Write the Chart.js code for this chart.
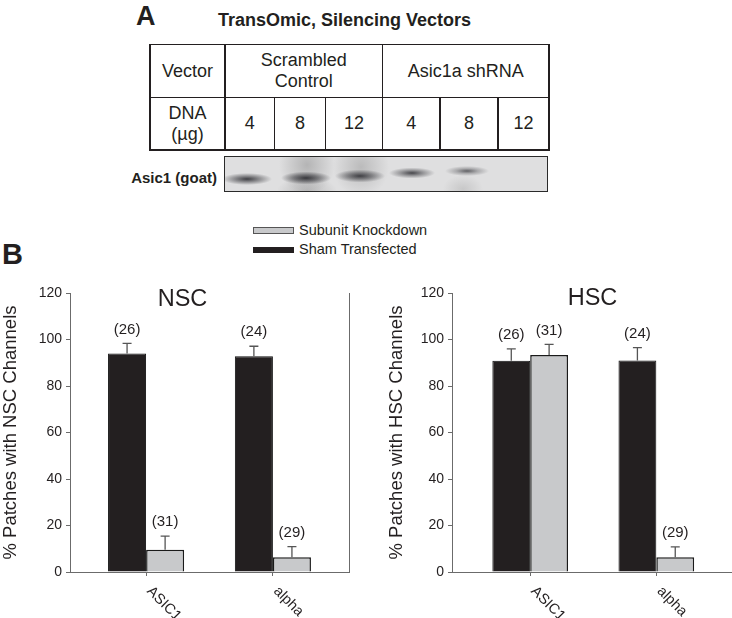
<!DOCTYPE html>
<html><head><meta charset="utf-8">
<script src="https://cdn.jsdelivr.net/npm/chart.js@4.4.1/dist/chart.umd.min.js"></script>
<style>
html,body{margin:0;padding:0;background:#fff}
body{width:732px;height:618px;position:relative;overflow:hidden;font-family:"Liberation Sans",Arial,sans-serif;color:#231f20}
.a{position:absolute;white-space:nowrap}
.cell{position:absolute;display:flex;align-items:center;justify-content:center;text-align:center;font-size:18px;line-height:21px}
.ln{position:absolute;background:#231f20}
canvas{position:absolute}
#blot{position:absolute;left:224px;top:155.5px;width:322px;height:34px;border:1.7px solid #2a2a2a;
background:
 radial-gradient(ellipse 25px 6px at 22px 22px, rgba(45,45,50,.9), rgba(45,45,50,.45) 50%, rgba(45,45,50,0)),
 radial-gradient(ellipse 25px 6.5px at 81px 21px, rgba(40,40,45,.9), rgba(40,40,45,.5) 50%, rgba(40,40,45,0)),
 radial-gradient(ellipse 25px 6.5px at 135px 19px, rgba(40,40,45,.85), rgba(40,40,45,.45) 50%, rgba(40,40,45,0)),
 radial-gradient(ellipse 23px 5.5px at 187px 16px, rgba(45,45,50,.85), rgba(45,45,50,.4) 50%, rgba(45,45,50,0)),
 radial-gradient(ellipse 22px 5px at 242px 14px, rgba(55,55,60,.75), rgba(55,55,60,.3) 50%, rgba(55,55,60,0)),
 radial-gradient(ellipse 28px 30px at 82px 8px, rgba(110,110,110,.38), rgba(110,110,110,0)),
 radial-gradient(ellipse 28px 30px at 136px 10px, rgba(110,110,110,.32), rgba(110,110,110,0)),
 radial-gradient(ellipse 30px 14px at 82px 34px, rgba(110,110,110,.32), rgba(110,110,110,0)),
 radial-gradient(ellipse 20px 14px at 238px 32px, rgba(130,130,130,.25), rgba(130,130,130,0)),
 #dfdfe0;}
</style></head>
<body>
<div class="a" style="left:136px;top:3px;font-size:27px;line-height:27px;font-weight:bold">A</div>
<div class="a" style="left:218px;top:10.8px;font-size:18px;line-height:18px;font-weight:bold">TransOmic, Silencing Vectors</div>

<div id="table"></div>
<div class="a" style="left:100px;width:117px;text-align:right;top:169px;font-size:15px;line-height:18px;font-weight:bold">Asic1 (goat)</div>
<div id="blot"></div>

<div class="a" style="left:2px;top:240px;font-size:29px;line-height:29px;font-weight:bold">B</div>

<div class="a" style="left:252.5px;top:227px;width:39px;height:5px;background:#c8c9cb;border:1px solid #555"></div>
<div class="a" style="left:252.5px;top:246.5px;width:41px;height:6.5px;background:#231f20"></div>
<div class="a" id="lg1" style="left:299px;top:222.7px;font-size:14.5px;line-height:14.5px"></div>
<div class="a" id="lg2" style="left:299px;top:242px;font-size:14.5px;line-height:14.5px"></div>

<canvas id="nsc" width="365" height="338" style="left:0;top:280px;width:365px;height:338px"></canvas>
<canvas id="hsc" width="346" height="338" style="left:386px;top:280px;width:346px;height:338px"></canvas>

<div class="a" id="t1" style="left:132.5px;width:100px;text-align:center;top:286.8px;font-size:23.5px;line-height:23.5px"></div>
<div class="a" id="t2" style="left:542.5px;width:100px;text-align:center;top:285.8px;font-size:23.5px;line-height:23.5px"></div>

<script>
// ---- data ----
const categories = ['ASIC1', 'alpha'];
const yTicks = [0, 20, 40, 60, 80, 100, 120];
const seriesNames = ['Subunit Knockdown', 'Sham Transfected'];
const panelTitles = ['NSC', 'HSC'];
const yTitles = ['% Patches with NSC Channels', '% Patches with HSC Channels'];

const nscSham = [94.0, 92.8];
const nscShamErr = [4.3, 4.3];
const nscShamN = ['(26)', '(24)'];
const nscKnock = [9.6, 6.3];
const nscKnockErr = [5.8, 4.6];
const nscKnockN = ['(31)', '(29)'];

const hscSham = [90.9, 91.0];
const hscShamErr = [5.1, 5.5];
const hscShamN = ['(26)', '(24)'];
const hscKnock = [93.3, 6.3];
const hscKnockErr = [4.6, 4.5];
const hscKnockN = ['(31)', '(29)'];

// table of panel A
const vectorHeader = ['Vector', 'Scrambled<br>Control', 'Asic1a shRNA'];
const dnaHeader = 'DNA<br>(µg)';
const dnaAmounts = ['4', '8', '12', '4', '8', '12'];

// ---- panel A table ----
(function(){
  const t = document.getElementById('table');
  const xs = [150, 225, 274.5, 325.5, 382.5, 440, 498, 549];
  const y0 = 44.5, y1 = 97.5, y2 = 150;
  let h = '';
  const cell = (l, r, tp, b, txt) => `<div class="cell" style="left:${l}px;width:${r-l}px;top:${tp}px;height:${b-tp}px">${txt}</div>`;
  h += cell(xs[0], xs[1], y0, y1, vectorHeader[0]);
  h += cell(xs[1], xs[4], y0, y1, vectorHeader[1]);
  h += cell(xs[4], xs[7], y0, y1, vectorHeader[2]);
  h += cell(xs[0], xs[1], y1, y2, dnaHeader);
  dnaAmounts.forEach((d, i) => { h += cell(xs[i+1], xs[i+2], y1, y2, d); });
  const lw = 1.5;
  const hl = (x1, x2, y) => `<div class="ln" style="left:${x1-lw/2}px;width:${x2-x1+lw}px;top:${y-lw/2}px;height:${lw}px"></div>`;
  const vl = (x, ya, yb) => `<div class="ln" style="left:${x-lw/2}px;width:${lw}px;top:${ya-lw/2}px;height:${yb-ya+lw}px"></div>`;
  h += hl(xs[0], xs[7], y0) + hl(xs[0], xs[7], y1) + hl(xs[0], xs[7], y2);
  h += vl(xs[0], y0, y2) + vl(xs[1], y0, y2) + vl(xs[4], y0, y2) + vl(xs[7], y0, y2);
  [2, 3, 5, 6].forEach(i => { h += vl(xs[i], y1, y2); });
  t.innerHTML = h;
})();

document.getElementById('lg1').textContent = seriesNames[0];
document.getElementById('lg2').textContent = seriesNames[1];
document.getElementById('t1').textContent = panelTitles[0];
document.getElementById('t2').textContent = panelTitles[1];

const FONT = '"Liberation Sans", Arial, sans-serif';
const INK = '#231f20';
const AXIS = '#6b6b6b';

const errPlugin = {
  id: 'errbars',
  afterDatasetsDraw(chart) {
    const ctx = chart.ctx, ys = chart.scales.y, xs = chart.scales.x;
    ctx.save();
    chart.data.datasets.forEach((ds, di) => {
      const meta = chart.getDatasetMeta(di);
      meta.data.forEach((bar, i) => {
        const top = ys.getPixelForValue(ds.data[i].y + ds.errors[i]);
        ctx.strokeStyle = '#555';
        ctx.lineWidth = 1.3;
        ctx.beginPath();
        ctx.moveTo(bar.x, bar.y);
        ctx.lineTo(bar.x, top);
        ctx.moveTo(bar.x - 4.5, top);
        ctx.lineTo(bar.x + 4.5, top);
        ctx.stroke();
        ctx.fillStyle = INK;
        ctx.font = '15px ' + FONT;
        ctx.textAlign = 'center';
        ctx.textBaseline = 'middle';
        ctx.fillText(ds.counts[i], bar.x, top - 14);
      });
    });
    // rotated category labels
    ctx.fillStyle = INK;
    ctx.font = '14.5px ' + FONT;
    categories.forEach((c, i) => {
      const px = xs.getPixelForValue(i);
      ctx.save();
      ctx.translate(px + 3, xs.top + 17);
      ctx.rotate(Math.PI / 4);
      ctx.textAlign = 'left';
      ctx.textBaseline = 'middle';
      ctx.fillText(c, 0, 0);
      ctx.restore();
    });
    // right frame line (NSC only)
    if (chart.options.plugins.errbars && chart.options.plugins.errbars.rightFrame) {
      const a = chart.chartArea;
      ctx.strokeStyle = AXIS;
      ctx.lineWidth = 1;
      ctx.beginPath();
      ctx.moveTo(Math.round(a.right) + 0.5, a.top);
      ctx.lineTo(Math.round(a.right) + 0.5, a.bottom);
      ctx.stroke();
    }
    ctx.restore();
  }
};

function makeChart(id, o) {
  return new Chart(document.getElementById(id), {
    type: 'bar',
    data: {
      datasets: [
        { label: seriesNames[1], data: o.sham.map((v, i) => ({ x: i, y: v })), errors: o.shamErr, counts: o.shamN,
          backgroundColor: INK, borderColor: '#111', borderWidth: 1, categoryPercentage: 0.6, barPercentage: 1 },
        { label: seriesNames[0], data: o.knock.map((v, i) => ({ x: i, y: v })), errors: o.knockErr, counts: o.knockN,
          backgroundColor: '#c8c9cb', borderColor: '#1a1a1a', borderWidth: 1.5, categoryPercentage: 0.6, barPercentage: 1 }
      ]
    },
    options: {
      responsive: false, animation: false, devicePixelRatio: 1,
      layout: { padding: { top: 13, right: o.padRight, left: 0, bottom: 0 } },
      plugins: { legend: { display: false }, tooltip: { enabled: false }, title: { display: false },
                 errbars: { rightFrame: o.rightFrame } },
      scales: {
        x: {
          type: 'linear', min: o.xmin, max: 1.6, offset: false,
          afterBuildTicks(s) { s.ticks = categories.map((c, i) => ({ value: i })); },
          afterFit(s) { s.height = 46; },
          ticks: { display: false },
          grid: { offset: false, drawOnChartArea: false, drawTicks: true, tickLength: 4, color: AXIS, lineWidth: 1 },
          border: { display: true, color: AXIS, width: 1 }
        },
        y: {
          min: 0, max: 120,
          afterBuildTicks(s) { s.ticks = yTicks.map(v => ({ value: v })); },
          afterFit(s) { s.width = o.yWidth; },
          ticks: { font: { family: FONT, size: 14 }, color: INK, padding: 4 },
          grid: { drawOnChartArea: false, drawTicks: true, tickLength: 4, color: AXIS, lineWidth: 1 },
          border: { display: true, color: AXIS, width: 1 },
          title: { display: true, text: o.ytitle, font: { family: FONT, size: 18.5 }, color: INK, padding: 0 }
        }
      }
    },
    plugins: [errPlugin]
  });
}

makeChart('nsc', { sham: nscSham, shamErr: nscShamErr, shamN: nscShamN, knock: nscKnock, knockErr: nscKnockErr, knockN: nscKnockN,
  xmin: -0.6, padRight: 16, yWidth: 70, ytitle: yTitles[0], rightFrame: true });
makeChart('hsc', { sham: hscSham, shamErr: hscShamErr, shamN: hscShamN, knock: hscKnock, knockErr: hscKnockErr, knockN: hscKnockN,
  xmin: -0.62, padRight: 0, yWidth: 66, ytitle: yTitles[1], rightFrame: false });
</script>
</body></html>
